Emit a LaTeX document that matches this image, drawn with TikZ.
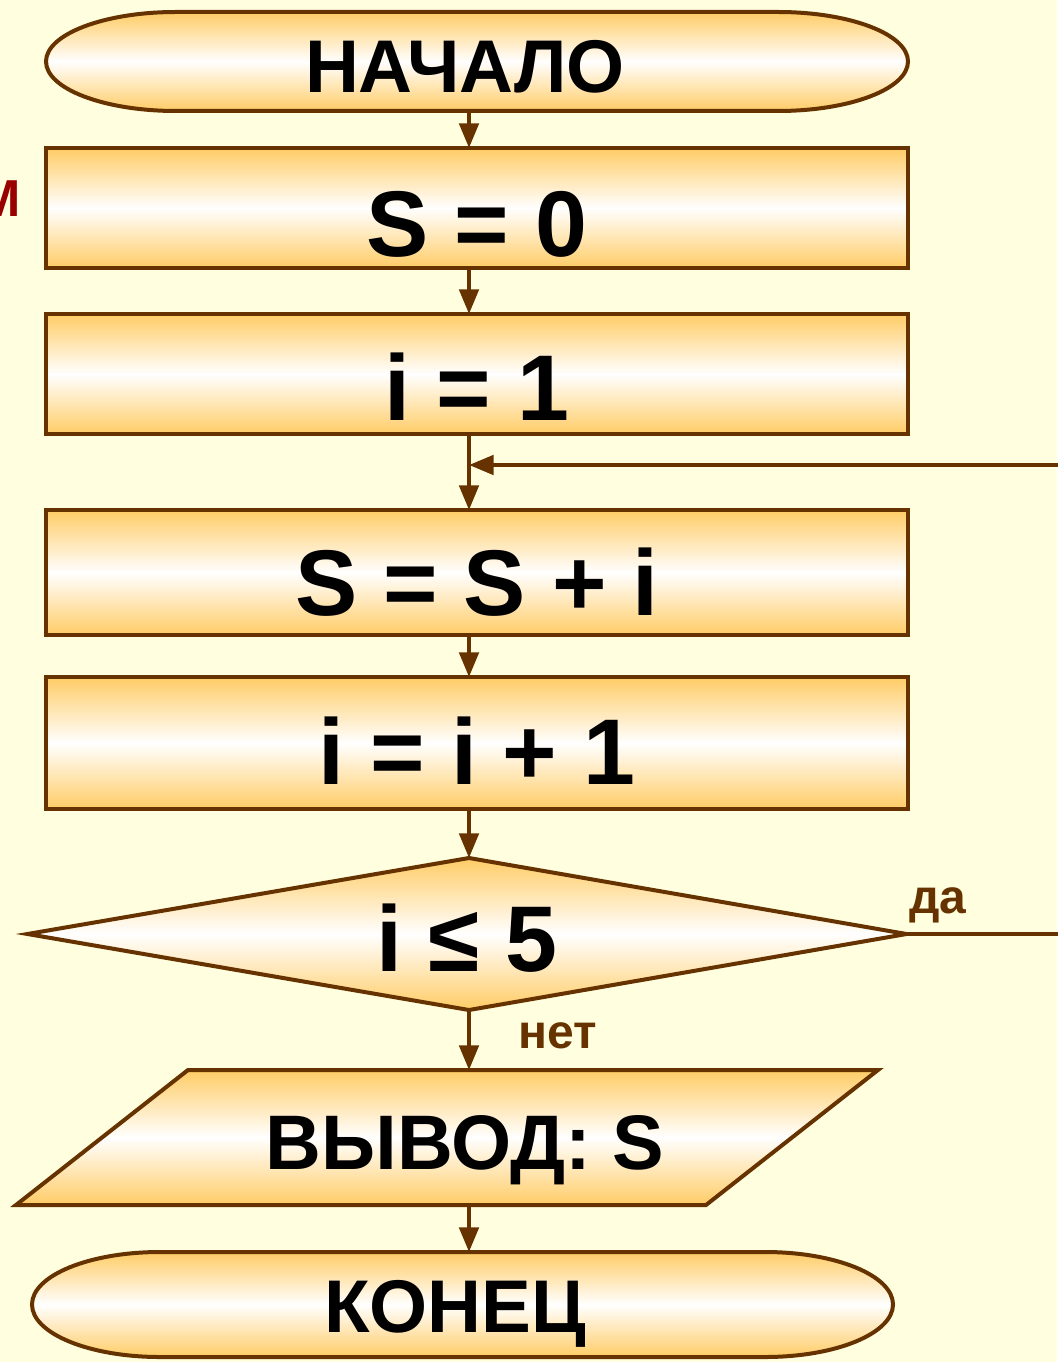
\documentclass[tikz,border=0pt]{standalone}
\usepackage{fontspec}
\setmainfont{Liberation Sans}
\usetikzlibrary{arrows.meta,backgrounds}
\definecolor{paper}{HTML}{FFFFE0}
\definecolor{edge}{HTML}{663300}
\definecolor{amber}{HTML}{FFCC66}
\definecolor{maroon}{HTML}{990000}
\newcommand{\bigbold}[1]{\fontsize{#1}{#1}\selectfont\bfseries}
\begin{document}
\begin{tikzpicture}[x=0.75pt,y=-0.75pt,
  shapefill/.style={top color=amber, bottom color=amber, middle color=white,
    draw=edge, line width=3pt, line join=miter},
  procbox/.style={shapefill, rectangle, minimum width=646.5pt, inner sep=0pt,
    outer sep=0pt, text depth=0pt, font=\bigbold{70}},
  slot/.style={rectangle, inner sep=0pt, outer sep=0pt, text depth=0pt},
  flow/.style={draw=edge, line width=3pt},
  arr/.style={flow, -{Triangle[length=18.5pt,width=14.5pt]}},
  tag/.style={text=edge, font=\bigbold{36}, inner sep=0pt}
]
\useasboundingbox (0,0) rectangle (1057,1362);

% column of the main flow and the free ends on the right
\coordinate (col)  at (469,0);
\coordinate (back) at (1062,465);
\coordinate (yes)  at (1062,934);

% blocks
\node[slot, minimum width=646.5pt, minimum height=74.25pt, text height=46.9pt,
      font=\bigbold{56}] (start) at (477,61.5) {НАЧАЛО\kern18pt};
\node[procbox, minimum height=90pt,    text height=73.4pt] (s0)  at (477,208)   {S = 0};
\node[procbox, minimum height=90pt,    text height=70.4pt] (i1)  at (477,374)   {i = 1};
\node[procbox, minimum height=93.75pt, text height=65.1pt] (add) at (477,572.5) {S = S + i};
\node[procbox, minimum height=99pt,    text height=62.1pt] (inc) at (477,743)   {i = i + 1};
\node[slot, minimum width=659.25pt, minimum height=114pt, text height=56.9pt,
      font=\bigbold{70}] (cond) at (467,934) {i ≤ 5};
\node[slot, minimum width=646.5pt, minimum height=101.25pt, text height=47.5pt,
      font=\bigbold{58}] (out) at (447,1137.5) {\kern27pt ВЫВОД: S};
\node[slot, minimum width=645.75pt, minimum height=78.75pt, text height=42.3pt,
      font=\bigbold{56}] (stop) at (462.5,1304.5) {КОНЕЦ\kern11.25pt};

% branch labels and the margin letter
\node[tag, anchor=base] (yeslbl) at (938,913) {да};
\node[tag, anchor=base] (nolbl)  at (557.5,1048) {нет};
\node[font=\bigbold{39}, text=maroon, anchor=base east, inner sep=0pt] (cut) at (21,217) {М};

% page colour and outlined shapes behind the texts
\begin{scope}[on background layer]
  \fill[paper] (0,0) rectangle (1057,1362);
  \path[shapefill] ([xshift=97.5pt]start.north west) -- ([xshift=-97.5pt]start.north east)
    arc[start angle=90, end angle=-90, x radius=97.5pt, y radius=37.125pt]
    -- ([xshift=97.5pt]start.south west)
    arc[start angle=270, end angle=90, x radius=97.5pt, y radius=37.125pt] -- cycle;
  \path[shapefill] (cond.west) -- (cond.north -| col) -- (cond.east)
    -- (cond.south -| col) -- cycle;
  \path[shapefill] ([xshift=129pt]out.north west) -- (out.north east)
    -- ([xshift=-129pt]out.south east) -- (out.south west) -- cycle;
  \path[shapefill] ([xshift=96pt]stop.north west) -- ([xshift=-96pt]stop.north east)
    arc[start angle=90, end angle=-90, x radius=96pt, y radius=39.375pt]
    -- ([xshift=96pt]stop.south west)
    arc[start angle=270, end angle=90, x radius=96pt, y radius=39.375pt] -- cycle;
\end{scope}

% connectors
\draw[arr] (start.south -| col) -- (s0.north -| col);
\draw[arr] (s0.south -| col)    -- (i1.north -| col);
\draw[arr] (i1.south -| col)    -- (add.north -| col);
\draw[arr] (add.south -| col)   -- (inc.north -| col);
\draw[arr] (inc.south -| col)   -- (cond.north -| col);
\draw[arr] (cond.south -| col)  -- (out.north -| col);
\draw[arr] (out.south -| col)   -- (stop.north -| col);
\draw[arr] (back) -- (back -| col);
\draw[flow] (cond.east) -- (yes);
\end{tikzpicture}
\end{document}
